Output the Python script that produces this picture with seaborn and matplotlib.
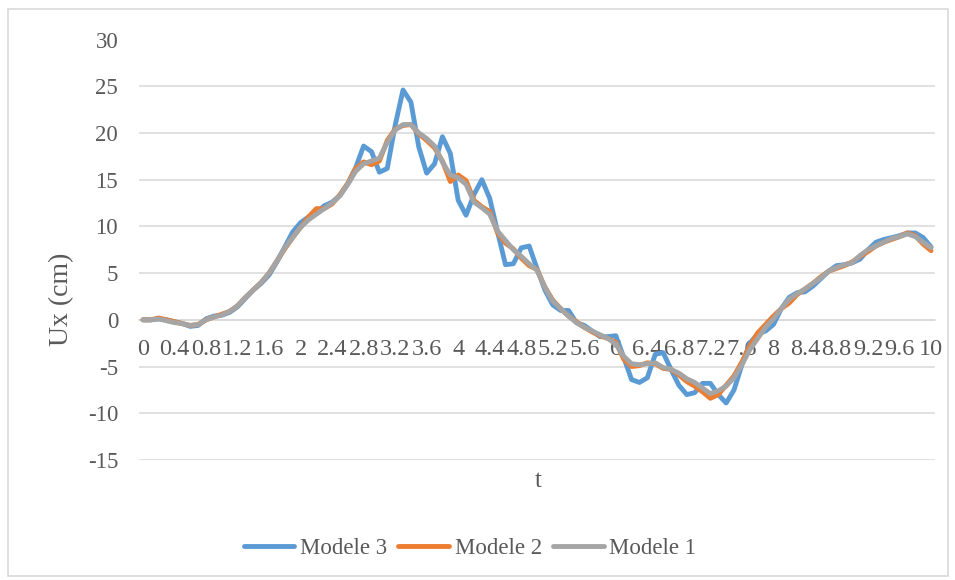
import numpy as np
import pandas as pd
import matplotlib
matplotlib.use("Agg")
import matplotlib.pyplot as plt
from matplotlib.lines import Line2D
from matplotlib.patches import Rectangle
import seaborn as sns

# Time steps (s)
t = [0.0, 0.1, 0.2, 0.3, 0.4, 0.5, 0.6, 0.7, 0.8, 0.9,
     1.0, 1.1, 1.2, 1.3, 1.4, 1.5, 1.6, 1.7, 1.8, 1.9,
     2.0, 2.1, 2.2, 2.3, 2.4, 2.5, 2.6, 2.7, 2.8, 2.9,
     3.0, 3.1, 3.2, 3.3, 3.4, 3.5, 3.6, 3.7, 3.8, 3.9,
     4.0, 4.1, 4.2, 4.3, 4.4, 4.5, 4.6, 4.7, 4.8, 4.9,
     5.0, 5.1, 5.2, 5.3, 5.4, 5.5, 5.6, 5.7, 5.8, 5.9,
     6.0, 6.1, 6.2, 6.3, 6.4, 6.5, 6.6, 6.7, 6.8, 6.9,
     7.0, 7.1, 7.2, 7.3, 7.4, 7.5, 7.6, 7.7, 7.8, 7.9,
     8.0, 8.1, 8.2, 8.3, 8.4, 8.5, 8.6, 8.7, 8.8, 8.9,
     9.0, 9.1, 9.2, 9.3, 9.4, 9.5, 9.6, 9.7, 9.8, 9.9,
     10.0]

# Horizontal displacement Ux (cm) for each model
modele_3 = [0.0, 0.0, 0.1, 0.0, -0.2, -0.4, -0.7, -0.6, 0.1, 0.4,
            0.5, 0.8, 1.4, 2.3, 3.2, 3.9, 4.8, 6.2, 7.8, 9.4,
            10.4, 11.0, 11.5, 12.2, 12.6, 13.3, 14.6, 16.3, 18.6, 18.0,
            15.8, 16.2, 20.8, 24.6, 23.3, 18.5, 15.7, 16.7, 19.6, 17.8,
            12.8, 11.2, 13.4, 15.0, 13.0, 9.4, 5.9, 6.0, 7.7, 7.9,
            5.5, 3.2, 1.6, 1.0, 1.0, -0.3, -0.6, -1.2, -1.8, -1.8,
            -1.7, -4.0, -6.4, -6.7, -6.2, -3.7, -3.5, -5.3, -7.0, -8.0,
            -7.8, -6.8, -6.8, -8.0, -8.9, -7.5, -4.8, -2.5, -1.5, -1.2,
            -0.5, 1.2, 2.4, 2.9, 3.0, 3.6, 4.4, 5.2, 5.8, 5.9,
            6.1, 6.5, 7.5, 8.3, 8.6, 8.8, 9.0, 9.3, 9.3, 8.8,
            7.8]

modele_2 = [0.0, 0.0, 0.2, 0.0, -0.2, -0.4, -0.6, -0.5, 0.0, 0.3,
            0.6, 0.9, 1.5, 2.4, 3.2, 4.0, 5.0, 6.3, 7.6, 8.8,
            9.9, 11.0, 11.9, 11.9, 12.4, 13.4, 14.6, 16.2, 16.9, 16.6,
            17.0, 19.2, 20.4, 20.8, 20.9, 19.9, 19.2, 18.4, 17.0, 14.8,
            15.5, 14.9, 12.8, 12.1, 11.6, 9.3, 8.2, 7.6, 6.6, 5.8,
            5.4, 3.5, 2.1, 1.2, 0.4, -0.2, -0.8, -1.3, -1.7, -2.0,
            -2.4, -4.2, -5.0, -4.9, -4.6, -4.7, -5.2, -5.3, -5.9, -6.6,
            -7.1, -7.7, -8.4, -8.0, -7.0, -6.0, -4.5, -2.8, -1.4, -0.5,
            0.4, 1.2, 1.8, 2.7, 3.3, 3.9, 4.6, 5.2, 5.5, 5.8,
            6.2, 6.8, 7.3, 7.9, 8.3, 8.6, 8.9, 9.3, 9.0, 8.1,
            7.4]

modele_1 = [0.0, 0.0, 0.1, -0.1, -0.3, -0.4, -0.6, -0.5, 0.0, 0.3,
            0.5, 0.9, 1.5, 2.4, 3.2, 4.0, 5.0, 6.3, 7.7, 8.8,
            9.9, 10.7, 11.3, 11.9, 12.5, 13.3, 14.5, 15.9, 16.7, 17.0,
            17.3, 19.0, 20.3, 20.9, 20.9, 20.0, 19.4, 18.6, 16.9, 15.5,
            15.2, 14.5, 12.6, 12.0, 11.3, 9.5, 8.5, 7.5, 6.8, 6.0,
            5.3, 3.5, 2.0, 1.2, 0.4, -0.3, -0.8, -1.2, -1.6, -2.0,
            -2.6, -3.9, -4.7, -4.8, -4.7, -4.6, -5.1, -5.3, -5.7, -6.3,
            -6.7, -7.3, -7.9, -7.6, -7.1, -6.2, -4.8, -3.2, -2.0, -0.8,
            0.1, 1.2, 2.2, 2.8, 3.3, 3.9, 4.5, 5.2, 5.6, 5.9,
            6.1, 6.9, 7.5, 7.9, 8.3, 8.7, 8.9, 9.2, 8.9, 8.3,
            7.7]

series_names = ["Modele 3", "Modele 2", "Modele 1"]
series_colors = ["#5B9BD5", "#ED7D31", "#A5A5A5"]
y_ticks = [-15, -10, -5, 0, 5, 10, 15, 20, 25, 30]

df = pd.DataFrame({
    "t": t * 3,
    "Ux": modele_3 + modele_2 + modele_1,
    "model": [series_names[0]] * len(t) + [series_names[1]] * len(t) + [series_names[2]] * len(t),
})

sns.set_theme(style="white")
plt.rcParams["font.family"] = ["Liberation Serif", "DejaVu Serif"]
plt.rcParams["axes.unicode_minus"] = False
text_color = "#595959"
grid_color = "#D9D9D9"

W, H = 955, 580
fig = plt.figure(figsize=(W / 100, H / 100), dpi=100)
fig.patch.set_facecolor("white")

ax = fig.add_axes([139 / W, 1 - 460 / H, (935 - 139) / W, (460 - 39.5) / H])

sns.lineplot(data=df, x="t", y="Ux", hue="model", hue_order=series_names,
             palette=series_colors, linewidth=3.5, legend=False, sort=False,
             ax=ax, solid_joinstyle="round", solid_capstyle="round")

step = t[1] - t[0]
ax.set_xlim(t[0] - step / 2, t[-1] + step / 2)
ax.set_ylim(-15, 30)
ax.set_yticks(y_ticks)
ax.set_yticklabels([str(v) for v in y_ticks])
ax.set_xticks(t[::4])
ax.set_xticklabels([f"{v:g}" for v in t[::4]])

ax.grid(axis="y", color=grid_color, linewidth=1.1)
ax.grid(axis="x", visible=False)
ax.set_axisbelow(True)
for side in ["left", "right", "top"]:
    ax.spines[side].set_visible(False)
ax.spines["bottom"].set_position(("data", 0))
ax.spines["bottom"].set_color(grid_color)
ax.spines["bottom"].set_linewidth(1.1)
ax.spines["bottom"].set_zorder(0.5)

tick_size = 16.5
ax.tick_params(axis="y", length=0, pad=15, labelsize=tick_size, labelcolor=text_color)
ax.tick_params(axis="x", length=0, pad=14, labelsize=17.5, labelcolor=text_color)
ax.set_xlabel("")
ax.set_ylabel("")

fig.text(538 / W, 1 - 481 / H, "t", ha="center", va="center",
         fontsize=18, color=text_color)
fig.text(62 / W, 1 - 299 / H, "Ux (cm)", ha="center", va="center",
         rotation=90, fontsize=20, color=text_color)

handles = [Line2D([0], [0], color=c, lw=3.5, solid_capstyle="round")
           for c in series_colors]
fig.legend(handles, series_names, loc="center", ncol=3, frameon=False,
           bbox_to_anchor=(470 / W, 1 - 548 / H), fontsize=tick_size,
           labelcolor=text_color, handlelength=2.2, handletextpad=0.25,
           columnspacing=0.5)

fig.add_artist(Rectangle((8 / W, 1 - 576 / H), (948 - 8) / W, (576 - 9) / H,
                         transform=fig.transFigure, fill=False,
                         edgecolor=grid_color, linewidth=1.2))

fig.savefig("out.png", dpi=100, facecolor="white")
